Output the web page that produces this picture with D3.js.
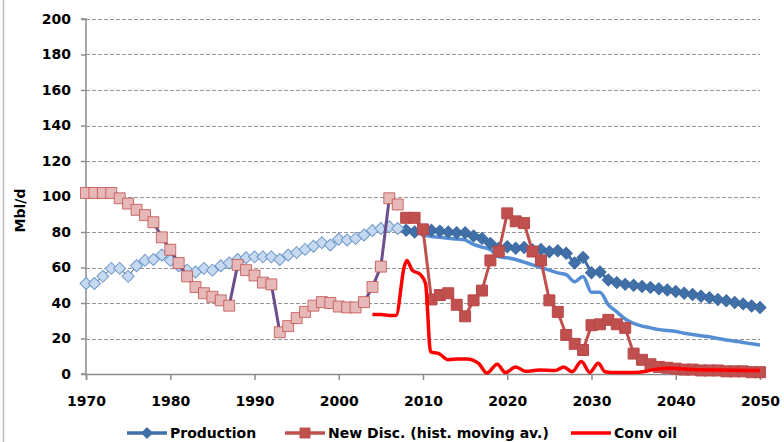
<!DOCTYPE html>
<meta charset="utf-8">
<style>
body { margin: 0; background: #fff; }
text { font-family: "DejaVu Sans", sans-serif; font-weight: bold; fill: #000; }
</style>
<body>
<script src="https://d3js.org/d3.v7.min.js"></script>
<script>

const width = 784
const height = 442

// historical data 1970-2007
const histYears = d3.range(1970, 2008)
const prodHist = [51, 51, 55, 59.5, 59.5, 55, 61, 64, 64.5, 67, 64, 61, 58.5, 57.5, 59.5, 58.5, 61, 62.5, 64.5, 65.5,
  66, 66, 66, 64.5, 67, 68.4, 70.2, 72, 74, 72.7, 75.9, 75.5, 76.4, 78.3, 80.8, 82, 83, 82]
const discHist = [102, 102, 102, 102, 99, 96, 92.5, 89.5, 85.5, 77, 70, 62.5, 55, 49, 45.5, 43.5, 41.5, 38.5, 61.5, 58.5,
  55.5, 51.5, 50.5, 23.5, 27, 31.5, 35, 38.5, 40.5, 40, 38, 37.5, 37.5, 40.5, 49, 60.5, 99, 95.5]

// forecast 2008-2050
const futYears = d3.range(2008, 2051)
const prodFut = [81, 80, 80.5, 81, 80.5, 80, 79.6, 79.6, 77.7, 76.4, 73.6, 70.8, 71.7, 70.8, 71.3, 69.9, 70.2, 68.9, 69.4, 68,
  62.5, 65.7, 57, 57.5, 53, 51.5, 50.5, 50, 49.3, 48.8, 48, 47.3, 46.5, 45.5, 44.8, 43.8, 43, 42, 41.3, 40.3, 39.5, 38.3, 37.5]
const discFut = [88, 88, 81.5, 42, 44.5, 45.5, 39, 32.5, 41.5, 47, 64, 69, 90.5, 86, 85, 69, 64, 41.5, 35, 22,
  17, 13.5, 27.5, 28, 30.5, 28, 26, 11.5, 8, 5.5, 4, 3.5, 3, 2.5, 2.5, 2, 2, 2, 1.5, 1.5, 1.5, 1, 1]

// light blue line 2010-2050
const trendYears = d3.range(2010, 2051)
const trend = [78.3, 77.5, 77, 76.5, 76, 75.5, 73, 71.5, 70, 66, 65.5, 64.5, 63, 61.5, 60, 58.5, 57, 56, 52, 55,
  46, 46, 39, 35, 31, 28.5, 27, 26, 25, 24.5, 24, 23, 22.3, 21.5, 21, 20, 19.2, 18.5, 17.8, 17, 16.3]

// conventional oil
const convYears = [2004, 2005, 2006, 2006.8, 2007.8, 2008.1, 2008.7, 2009.7, 2010.3, 2010.9, 2011.9, 2013, 2014.2, 2015.2,
  2016.6, 2017.6, 2018.8, 2019.8, 2021, 2022.2, 2023.8, 2025.7, 2026.7, 2027.7, 2028.8, 2029.8, 2030.8, 2031.6, 2033,
  2035, 2036.5, 2037.5, 2039.5, 2042, 2045, 2050]
const convOil = [33.5, 33.5, 33, 33, 61, 64, 58.5, 56, 51, 12.5, 11.5, 8, 8.5, 8.5, 6, 0.5, 5.5, 0.8, 4, 1.5, 2.2, 2, 4, 1.2,
  7, 0.9, 6, 1.3, 0.8, 0.8, 1.5, 2.6, 3.2, 2.5, 2.2, 2]

const yTicks = d3.range(0, 201, 20)
const xTicks = d3.range(1970, 2051, 10)
const legendItems = ['Production', 'New Disc. (hist. moving av.)', 'Conv oil']

const svg = d3.select('body').append('svg')
  .attr('width', width)
  .attr('height', height)

const x = d3.scaleLinear().domain([1970, 2050]).range([86, 760])
const y = d3.scaleLinear().domain([0, 200]).range([374, 19])

// outer chart border (left edge only visible)
svg.append('line')
  .attr('x1', 3.5).attr('x2', 3.5).attr('y1', 0).attr('y2', height)
  .attr('stroke', '#bfbfbf').attr('stroke-width', 1.5)

// gridlines
svg.append('g').selectAll('line')
  .data(yTicks.filter(d => d > 0))
  .join('line')
  .attr('x1', x(1970)).attr('x2', x(2050))
  .attr('y1', d => Math.round(y(d)) + 0.5).attr('y2', d => Math.round(y(d)) + 0.5)
  .attr('stroke', '#969696')
  .attr('stroke-dasharray', '4,2')

// axes
const yAxis = svg.append('g')
  .attr('transform', `translate(${x(1970)},0)`)
  .call(d3.axisLeft(y).tickValues(yTicks).tickSize(5).tickPadding(10))
const xAxis = svg.append('g')
  .attr('transform', `translate(0,${y(0)})`)
  .call(d3.axisBottom(x).tickValues(xTicks).tickFormat(d3.format('d')).tickSize(6).tickPadding(16))
for (const ax of [yAxis, xAxis]) {
  ax.select('.domain').attr('stroke', '#8c8c8c').attr('stroke-width', 1.5)
  ax.selectAll('.tick line').attr('stroke', '#8c8c8c').attr('stroke-width', 1.5)
  ax.selectAll('text').attr('font-size', 14).attr('font-family', null).attr('fill', '#000')
}
yAxis.select('.domain').attr('d', `M-5,${y(200)}H0V${y(0)}H-5`)

svg.append('text')
  .attr('transform', `translate(25,${(y(0) + y(200)) / 2 + 14}) rotate(-90)`)
  .attr('text-anchor', 'middle')
  .attr('font-size', 14)
  .text('Mbl/d')

const diamond = d3.symbol(d3.symbolSquare, 72)()
const square = d3.symbol(d3.symbolSquare, 120)()

function line(xs, vals, curve) {
  return d3.line()
    .x((d, i) => x(xs[i]))
    .y(d => y(d))
    .curve(curve || d3.curveLinear)(vals)
}

// light blue line
svg.append('path')
  .attr('d', line(trendYears, trend, d3.curveMonotoneX))
  .attr('fill', 'none').attr('stroke', '#558ed5').attr('stroke-width', 3.5)

// forecast production
svg.append('path')
  .attr('d', line(futYears, prodFut))
  .attr('fill', 'none').attr('stroke', '#4170a8').attr('stroke-width', 3)
svg.append('g').selectAll('path')
  .data(prodFut)
  .join('path')
  .attr('d', diamond)
  .attr('transform', (d, i) => `translate(${x(futYears[i])},${y(d)}) rotate(45)`)
  .attr('fill', '#4170a8').attr('stroke', '#3c6aa0')

// forecast new discoveries
svg.append('path')
  .attr('d', line(futYears, discFut))
  .attr('fill', 'none').attr('stroke', '#c0504d').attr('stroke-width', 3)
svg.append('g').selectAll('path')
  .data(discFut)
  .join('path')
  .attr('d', square)
  .attr('transform', (d, i) => `translate(${x(futYears[i])},${y(d)})`)
  .attr('fill', '#c0504d').attr('stroke', '#b9474a')

// historical production
svg.append('path')
  .attr('d', line(histYears, prodHist))
  .attr('fill', 'none').attr('stroke', '#1f497d').attr('stroke-width', 1)
svg.append('g').selectAll('path')
  .data(prodHist)
  .join('path')
  .attr('d', diamond)
  .attr('transform', (d, i) => `translate(${x(histYears[i])},${y(d)}) rotate(45)`)
  .attr('fill', '#c6d9f1').attr('stroke', '#6f97c9')

// historical new discoveries
svg.append('path')
  .attr('d', line(histYears, discHist))
  .attr('fill', 'none').attr('stroke', '#6a4f8c').attr('stroke-width', 3)
svg.append('g').selectAll('path')
  .data(discHist)
  .join('path')
  .attr('d', square)
  .attr('transform', (d, i) => `translate(${x(histYears[i])},${y(d)})`)
  .attr('fill', '#e6b9b8').attr('stroke', '#c0504d').attr('stroke-opacity', 0.8)

// conventional oil
svg.append('path')
  .attr('d', line(convYears, convOil, d3.curveMonotoneX))
  .attr('fill', 'none').attr('stroke', '#ff0000').attr('stroke-width', 3.5)

// legend
const legend = svg.append('g')
const ly = 433
const lx = [127, 285, 571]
const lcol = ['#4170a8', '#c0504d', '#ff0000']
legendItems.forEach((name, i) => {
  legend.append('line')
    .attr('x1', lx[i]).attr('x2', lx[i] + 40).attr('y1', ly).attr('y2', ly)
    .attr('stroke', lcol[i]).attr('stroke-width', 3.5)
  if (i === 0) {
    legend.append('path').attr('d', diamond)
      .attr('transform', `translate(${lx[i] + 20},${ly}) rotate(45)`)
      .attr('fill', lcol[i])
  }
  if (i === 1) {
    legend.append('path').attr('d', square)
      .attr('transform', `translate(${lx[i] + 20},${ly})`)
      .attr('fill', lcol[i])
  }
  legend.append('text')
    .attr('x', lx[i] + 43).attr('y', ly + 5)
    .attr('font-size', 14)
    .text(name)
})

</script>
</body>
</html>
